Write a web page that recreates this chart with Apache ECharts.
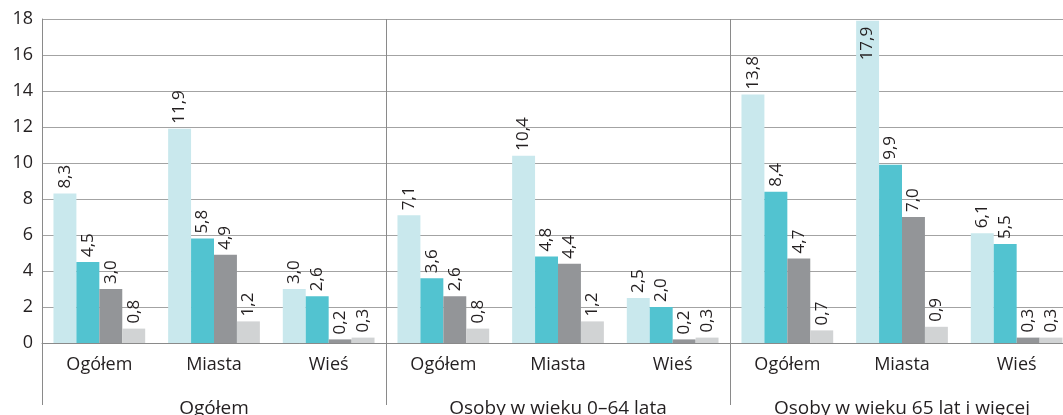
<!DOCTYPE html>
<html><head><meta charset="utf-8">
<script src="https://cdn.jsdelivr.net/npm/echarts@6/dist/echarts.min.js"></script>
<style>html,body{margin:0;padding:0;background:#fff;overflow:hidden;width:1063px;height:415px}#c{width:1074px;height:415px}</style>
</head><body><div id="c"></div>
<script>
const subCategories = ['Ogółem','Miasta','Wieś','Ogółem','Miasta','Wieś','Ogółem','Miasta','Wieś'];
const groups = ['Ogółem','Osoby w wieku 0–64 lata','Osoby w wieku 65 lat i więcej'];
const series1 = [8.3, 11.9, 3.0, 7.1, 10.4, 2.5, 13.8, 17.9, 6.1];
const series2 = [4.5, 5.8, 2.6, 3.6, 4.8, 2.0, 8.4, 9.9, 5.5];
const series3 = [3.0, 4.9, 0.2, 2.6, 4.4, 0.2, 4.7, 7.0, 0.3];
const series4 = [0.8, 1.2, 0.3, 0.8, 1.2, 0.3, 0.7, 0.9, 0.3];
const seriesNames = ['Seria 1','Seria 2','Seria 3','Seria 4'];
const colors = ['#c9e8ed','#52c3d0','#939598','#d1d3d4'];
const FONT = 'Open Sans';

const chart = echarts.init(document.getElementById('c'));
const fmt = v => v.toFixed(1).replace('.', ',');
const lbl = {
  show: true, position: 'top', rotate: 90, align: 'left', verticalAlign: 'middle',
  distance: 5, fontFamily: FONT, fontSize: 17, color: '#231f20',
  formatter: p => fmt(p.value)
};
function mkData(d) {
  // values too tall for an outside label get their label inside the bar top
  return d.map(v => v > 16.5
    ? { value: v, label: { position: 'insideTop', align: 'right', distance: 6 } }
    : v);
}
chart.setOption({
  animation: false,
  color: colors,
  grid: { left: 42, right: 0, top: 19, bottom: 72, containLabel: false, outerBoundsMode: 'none' },
  xAxis: [
    { type: 'category', data: subCategories, position: 'bottom',
      axisLine: { show: true, lineStyle: { color: '#8a8a8a', width: 1 } },
      axisTick: { show: false },
      axisLabel: { interval: 0, margin: 13, fontFamily: FONT, fontSize: 18, color: '#231f20' } },
    { type: 'category', data: groups, position: 'bottom',
      axisLine: { show: false },
      axisTick: { show: true, interval: 0, length: 62, lineStyle: { color: '#8a8a8a', width: 1 } },
      splitLine: { show: true, interval: 0, lineStyle: { color: '#8a8a8a', width: 1 } },
      axisLabel: { interval: 0, margin: 56, fontFamily: FONT, fontSize: 19, color: '#231f20' } }
  ],
  yAxis: { type: 'value', min: 0, max: 18, interval: 2,
    axisLine: { show: true, lineStyle: { color: '#8a8a8a', width: 1 } },
    axisTick: { show: false },
    splitLine: { show: true, lineStyle: { color: '#a3a3a3', width: 1 } },
    axisLabel: { margin: 9, fontFamily: FONT, fontSize: 18, color: '#231f20' } },
  series: [series1, series2, series3, series4].map((d, i) => ({
    name: seriesNames[i], type: 'bar', data: mkData(d), xAxisIndex: 0,
    barGap: '0%', barCategoryGap: '20%', label: lbl
  }))
});
</script></body></html>
